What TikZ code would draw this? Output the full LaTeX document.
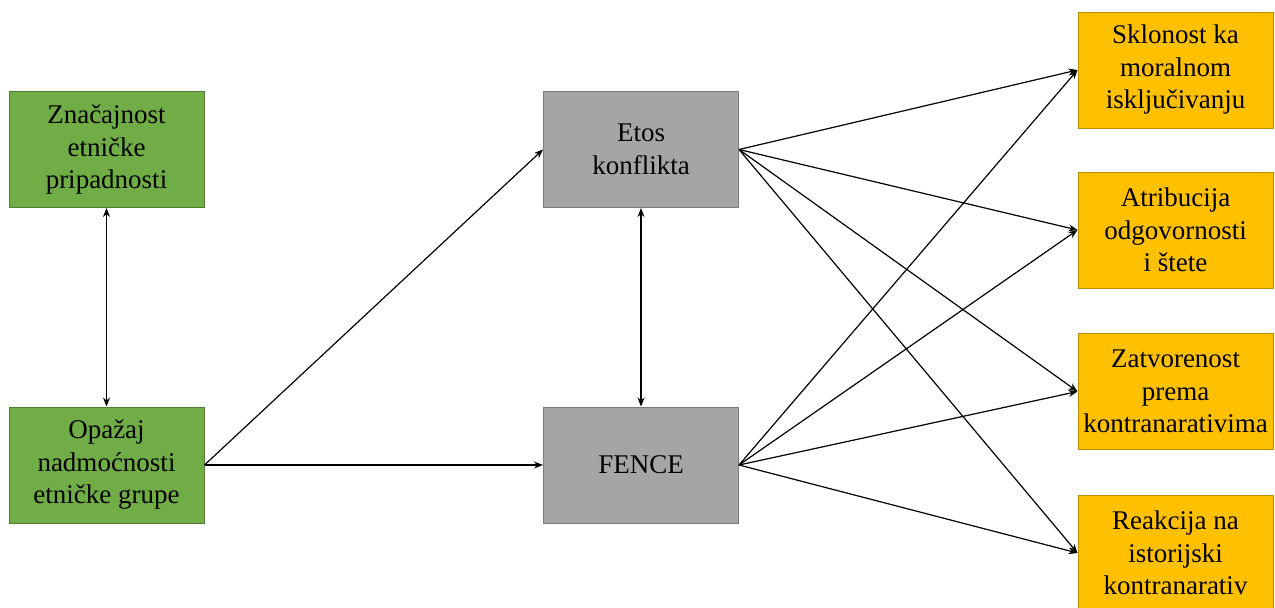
\documentclass[tikz,border=0pt]{standalone}
\usepackage{fontspec}
\setmainfont{Liberation Serif}
\usetikzlibrary{arrows.meta}
\definecolor{grnfill}{HTML}{70AD47}
\definecolor{grnline}{HTML}{507E32}
\definecolor{grayfill}{HTML}{A5A5A5}
\definecolor{grayline}{HTML}{7C7C7C}
\definecolor{orfill}{HTML}{FFC000}
\definecolor{orline}{HTML}{BC8C00}
\tikzset{
  x=1pt, y=-1pt,
  box/.style={rectangle, line width=1pt, minimum width=195pt, minimum height=116pt,
    align=center, inner sep=1pt, font=\fontsize{27}{32.5}\selectfont, text=black},
  greenbox/.style={box, fill=grnfill, draw=grnline},
  graybox/.style={box, fill=grayfill, draw=grayline},
  orangebox/.style={box, fill=orfill, draw=orline},
  link/.style={line width=1.2pt, -{Stealth[length=9pt,width=7pt]}},
  both/.style={line width=1.2pt, {Stealth[length=9pt,width=7pt]}-{Stealth[length=9pt,width=7pt]}}
}
\begin{document}
\begin{tikzpicture}
\useasboundingbox (0,0) rectangle (1275,608);
\clip (0,0) rectangle (1275,608);
% predictors
\node[greenbox] (g1) at (106.5,149.5) {Značajnost\\etničke\\pripadnosti};
\node[greenbox] (g2) at (106.5,465) {Opažaj\\nadmoćnosti\\etničke grupe};
% mediators
\node[graybox] (etos) at (641,149.5) {Etos\\konflikta};
\node[graybox] (fence) at (641,465) {FENCE};
% outcomes
\node[orangebox] (o1) at (1175.5,70) {Sklonost ka\\moralnom\\isključivanju};
\node[orangebox] (o2) at (1175.5,230) {Atribucija\\odgovornosti\\i štete};
\node[orangebox] (o3) at (1175.5,391.5) {Zatvorenost\\prema\\kontranarativima};
\node[orangebox] (o4) at (1175.5,553) {Reakcija na\\istorijski\\kontranarativ};
% paths
\draw[both] (g1.south) -- (g2.north);
\draw[both] (etos.south) -- (fence.north);
\draw[link] (g2.east) -- (etos.west);
\draw[link] (g2.east) -- (fence.west);
\foreach \o in {o1,o2,o3,o4}{
  \draw[link] (etos.east) -- (\o.west);
  \draw[link] (fence.east) -- (\o.west);
}
\end{tikzpicture}
\end{document}
